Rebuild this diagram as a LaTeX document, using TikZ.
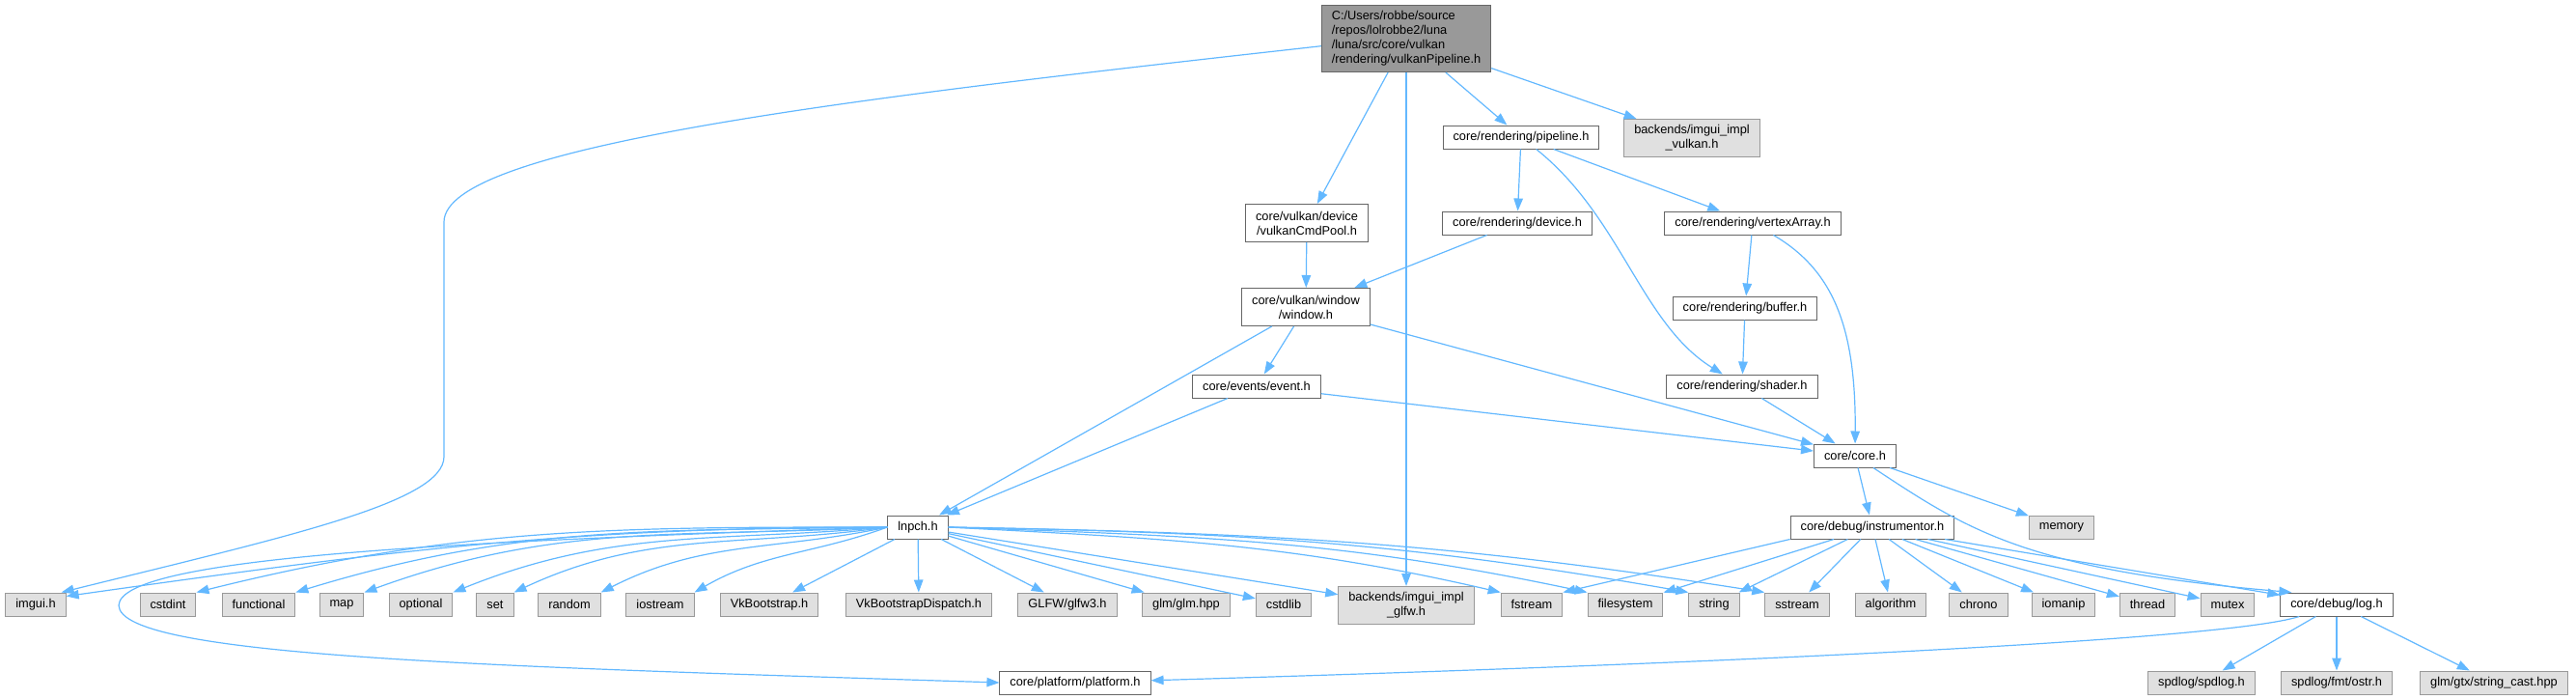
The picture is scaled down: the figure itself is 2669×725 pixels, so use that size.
\documentclass[tikz,border=0pt]{standalone}
\usepackage{fontspec}
\setmainfont{Liberation Sans}
\usepackage{tikz}
\usetikzlibrary{arrows.meta}
\definecolor{edgeblue}{HTML}{63B8FF}
\definecolor{boxline}{HTML}{666666}
\definecolor{sysline}{HTML}{999999}
\definecolor{sysfill}{HTML}{E0E0E0}
\definecolor{mainfill}{HTML}{999999}
\tikzset{
  filebox/.style = {draw=boxline, fill=white, line width=1pt, align=center,
                    inner xsep=10.5pt, inner ysep=3pt, minimum height=24pt,
                    font=\fontsize{12.8pt}{15pt}\selectfont},
  sysbox/.style  = {filebox, draw=sysline, fill=sysfill},
  hdrbox/.style  = {filebox, fill=mainfill, align=left, minimum height=69pt},
  twoline/.style = {minimum height=39pt},
  dep/.style     = {-{Triangle[length=13pt,width=9.5pt]}, draw=edgeblue, line width=1.2pt},
}

\begin{document}
\begin{tikzpicture}[x=1pt, y=-1pt]
    \useasboundingbox (0,0) rectangle (2669,725);

    % ---------------- upper part
    \node[hdrbox] (main) at (1457,40)
      {C:/Users/robbe/source\\/repos/lolrobbe2/luna\\/luna/src/core/vulkan\\/rendering/vulkanPipeline.h};
    \node[filebox] (pipeline) at (1576,142) {core/rendering/pipeline.h};
    \node[sysbox, twoline] (vkimpl) at (1753,143) {backends/imgui\_impl\\\_vulkan.h};
    \node[filebox, twoline] (cmdpool) at (1354,231) {core/vulkan/device\\/vulkanCmdPool.h};
    \node[filebox] (device) at (1572,231) {core/rendering/device.h};
    \node[filebox] (vertexarray) at (1816,231) {core/rendering/vertexArray.h};
    \node[filebox, twoline] (window) at (1353,318) {core/vulkan/window\\/window.h};
    \node[filebox] (buffer) at (1808,319) {core/rendering/buffer.h};
    \node[filebox] (event) at (1302,400) {core/events/event.h};
    \node[filebox] (shader) at (1805,400) {core/rendering/shader.h};
    \node[filebox] (core) at (1922,472) {core/core.h};
    \node[filebox] (instr) at (1940,546) {core/debug/instrumentor.h};
    \node[sysbox] (memory) at (2136,546) {memory};
    \node[filebox] (lnpch) at (951,546) {lnpch.h};

    % ---------------- header row
    \foreach \n/\x/\t in {imgui/37/imgui.h, cstdint/174/cstdint, functional/268/functional,
        map/354/map, optional/436/optional, set/513/set, random/590/random,
        iostream/684/iostream, vkboot/797/VkBootstrap.h, vkdispatch/952/VkBootstrapDispatch.h,
        glfw/1106/{GLFW/glfw3.h}, glm/1229/{glm/glm.hpp}, cstdlib/1330/cstdlib,
        fstream/1587/fstream, filesystem/1684/filesystem, string/1776/string,
        sstream/1862/sstream, algorithm/1959/algorithm, chrono/2050/chrono,
        iomanip/2138/iomanip, thread/2225/thread, mutex/2308/mutex}
      {\node[sysbox] (\n) at (\x,626) {\t};}
    \node[sysbox, twoline] (glfwimpl) at (1457,627) {backends/imgui\_impl\\\_glfw.h};
    \node[filebox] (log) at (2421,626) {core/debug/log.h};

    % ---------------- bottom row
    \node[filebox] (platform) at (1114,707) {core/platform/platform.h};
    \node[sysbox] (spdlog) at (2281,707) {spdlog/spdlog.h};
    \node[sysbox] (ostr) at (2421,707) {spdlog/fmt/ostr.h};
    \node[sysbox] (strcast) at (2584,707) {glm/gtx/string\_cast.hpp};

    % ---------------- includes
    \draw[dep] (main.185) .. controls (900,100) and (460,150) .. (460,230) -- (460,473)
      .. controls (460,520) and (300,555) .. ([xshift=-5pt]imgui.north east);
    \foreach \t in {cmdpool, glfwimpl, pipeline, vkimpl} {\draw[dep] (main) -- (\t);}

    \draw[dep] (pipeline) -- (device);
    \draw[dep] (pipeline) -- (vertexarray);
    \draw[dep] (pipeline) .. controls (1680,225) and (1700,335) .. (shader);
    \draw[dep] (cmdpool) -- (window);
    \draw[dep] (device) -- (window);
    \draw[dep] (vertexarray) -- (buffer);
    \draw[dep] (vertexarray) .. controls (1900,280) and (1923,340) .. (core);
    \draw[dep] (buffer) -- (shader);

    \foreach \a/\b in {window/event, window/lnpch, window/core, event/lnpch,
        event/core, shader/core, core/instr, core/memory} {\draw[dep] (\a) -- (\b);}
    \draw[dep] (core) .. controls (2040,550) and (2100,590) .. ([xshift=12pt]log.north west);

    \draw[dep] (instr.south west) -- (fstream.north east);
    \foreach \t in {filesystem, string, sstream, algorithm, chrono, iomanip, thread, mutex, log}
      {\draw[dep] (instr) -- (\t);}

    \foreach \t in {spdlog, ostr, strcast} {\draw[dep] (log) -- (\t);}
    \draw[dep] (log) .. controls (2300,665) and (1700,690) .. (platform);

    % lnpch.h fans out to the std headers
    \draw[dep] (lnpch.west) to[out=180, in=8] ([yshift=-4pt]imgui.north east);
    \foreach \t/\o/\i in {cstdint/180/14, functional/181/17, map/183/20, optional/185/22,
        set/188/25, random/192/27, iostream/200/30}
      {\draw[dep] (lnpch.west) to[out=\o, in=\i] (\t.north east);}
    \foreach \t in {vkboot, vkdispatch, glfw, glm, cstdlib, glfwimpl} {\draw[dep] (lnpch) -- (\t);}
    \foreach \t/\o/\i in {fstream/-3/167, filesystem/-2/168, string/-1/170, sstream/-1/171}
      {\draw[dep] (lnpch.east) to[out=\o, in=\i] (\t.north west);}
    \draw[dep] (lnpch.west) .. controls (500,560) and (125,575) .. (123,627)
      .. controls (125,680) and (500,690) .. (platform.west);
\end{tikzpicture}
\end{document}
